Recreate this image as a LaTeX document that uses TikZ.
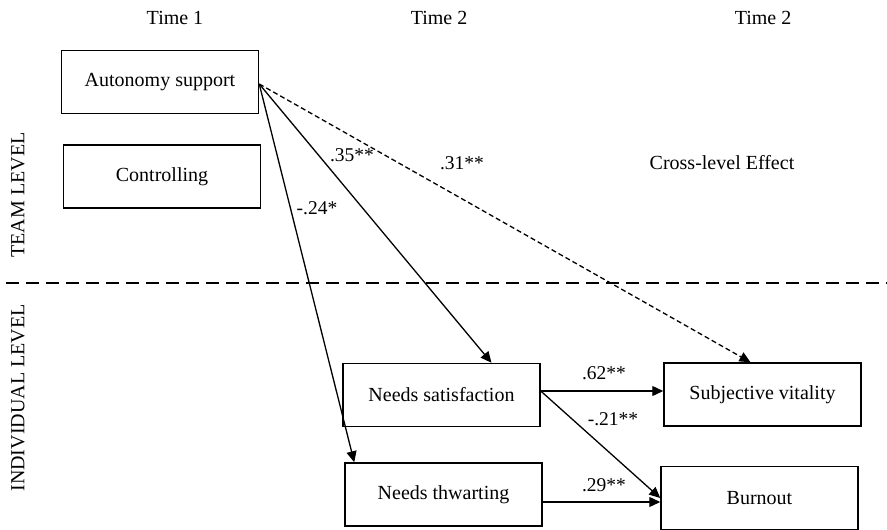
\documentclass[tikz,border=0pt]{standalone}
\usepackage{fontspec}
\setmainfont{Liberation Serif}
\usetikzlibrary{arrows.meta}
\begin{document}
\begin{tikzpicture}[x=1pt,y=-1pt,
  font=\fontsize{20}{24}\selectfont,
  box/.style={draw, line width=1.5pt, minimum width=197pt, minimum height=63pt, inner sep=0pt},
  lbl/.style={inner sep=0pt, font=\fontsize{19.5}{23}\selectfont},
  arr/.style={line width=1.3pt, -{Triangle[length=11pt,width=10pt]}},
  darr/.style={arr, dash pattern=on 5pt off 3pt}]
\useasboundingbox (0,0) rectangle (887,530);
% headings
\node (t1) at (175,18) {Time 1};
\node (t2) at (439,18) {Time 2};
\node (t3) at (763,18) {Time 2};
\node[rotate=90] (team) at (18,195) {TEAM LEVEL};
\node[rotate=90] (indiv) at (18,398) {INDIVIDUAL LEVEL};
\node (cross) at (722,163) {Cross-level Effect};
% separator
\coordinate (sepL) at (6,283);
\coordinate (sepR) at (887,283);
\draw[line width=1.5pt, dash pattern=on 13pt off 7pt] (sepL) -- (sepR);
% boxes
\node[box] (AS) at (160,82) {Autonomy support};
\node[box] (CT) at (162,176.5) {Controlling};
\node[box] (NS) at (441.5,395) {Needs satisfaction};
\node[box] (NT) at (443.5,494.5) {Needs thwarting};
\node[box] (SV) at (762.5,394.5) {Subjective vitality};
\node[box] (BO) at (759.5,498) {Burnout};
% arrows
\draw[arr] ([yshift=-2pt]AS.east) -- ([xshift=10pt]NT.north west);
\draw[arr] ([yshift=-2pt]AS.east) -- ([xshift=50pt]NS.north);
\draw[darr] ([yshift=-2pt]AS.east) -- ([xshift=-12pt]SV.north);
\draw[arr] ([yshift=4pt]NS.east) -- ([yshift=4pt]NS.east -| SV.west);
\draw[arr] ([yshift=4pt]NS.east) -- (BO.west);
\draw[arr] ([yshift=-7.5pt]NT.east) -- ([yshift=-7.5pt]NT.east -| BO.west);
% coefficients
\node[lbl] (c35) at (352,155) {.35**};
\node[lbl] (c24) at (317,208) {-.24*};
\node[lbl] (c31) at (462,163) {.31**};
\node[lbl] (c62) at (604,373) {.62**};
\node[lbl] (c21) at (613,419) {-.21**};
\node[lbl] (c29) at (604,485) {.29**};
\end{tikzpicture}
\end{document}
